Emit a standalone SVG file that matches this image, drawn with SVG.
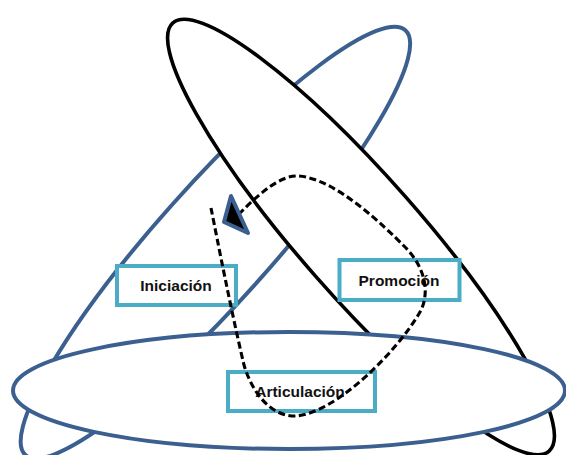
<svg xmlns="http://www.w3.org/2000/svg" width="566" height="455" viewBox="0 0 566 455">
  <style>
    .ring-blue { fill: #ffffff; stroke: #3B6090; stroke-width: 4; }
    .ring-black { fill: #ffffff; stroke: #000000; stroke-width: 3.6; }
    .box { fill: #ffffff; stroke: #4BACC6; stroke-width: 4; }
    .label { font-family: "Liberation Sans", Arial, sans-serif; font-weight: bold; font-size: 15.5px; fill: #111111; text-anchor: middle; }
    .flow { fill: none; stroke: #000000; stroke-width: 3.1; stroke-dasharray: 7 3.5; }
    .head { fill: #000000; stroke: #3B6090; stroke-width: 4; stroke-linejoin: round; }
  </style>
  <rect width="566" height="455" fill="#ffffff"/>

  <!-- background rings, back to front -->
  <g id="rings">
    <ellipse class="ring-blue" cx="215.4" cy="242.6" rx="285" ry="57.5" transform="rotate(-48.2 215.4 242.6)"/>
    <ellipse class="ring-black" cx="361" cy="237" rx="285" ry="60" transform="rotate(48.7 361 237)"/>
    <ellipse class="ring-blue" cx="289" cy="390.5" rx="276" ry="58.5"/>
  </g>

  <g id="iniciacion">
    <rect class="box" x="117" y="266" width="119" height="39"/>
    <text class="label" x="176" y="291">Iniciación</text>
  </g>

  <g id="promocion">
    <rect class="box" x="339.5" y="260" width="120" height="40"/>
    <text class="label" x="399" y="286">Promoción</text>
  </g>

  <g id="articulacion">
    <rect class="box" x="228" y="372" width="147" height="39"/>
    <text class="label" x="300" y="397">Articulación</text>
  </g>

  <!-- dashed cycle with its arrowhead -->
  <g id="connectors">
    <path class="flow" d="M211,208 C218,243 231,310 244,365 C252,392 270,416 295,416 C335,414 397,352 420,312 C430,294 426,268 405,247 C384,226 335,178 298,176 C280,175 258,195 240,213"/>
    <polygon class="head" points="231,196 224,222 248,233"/>
  </g>
</svg>
